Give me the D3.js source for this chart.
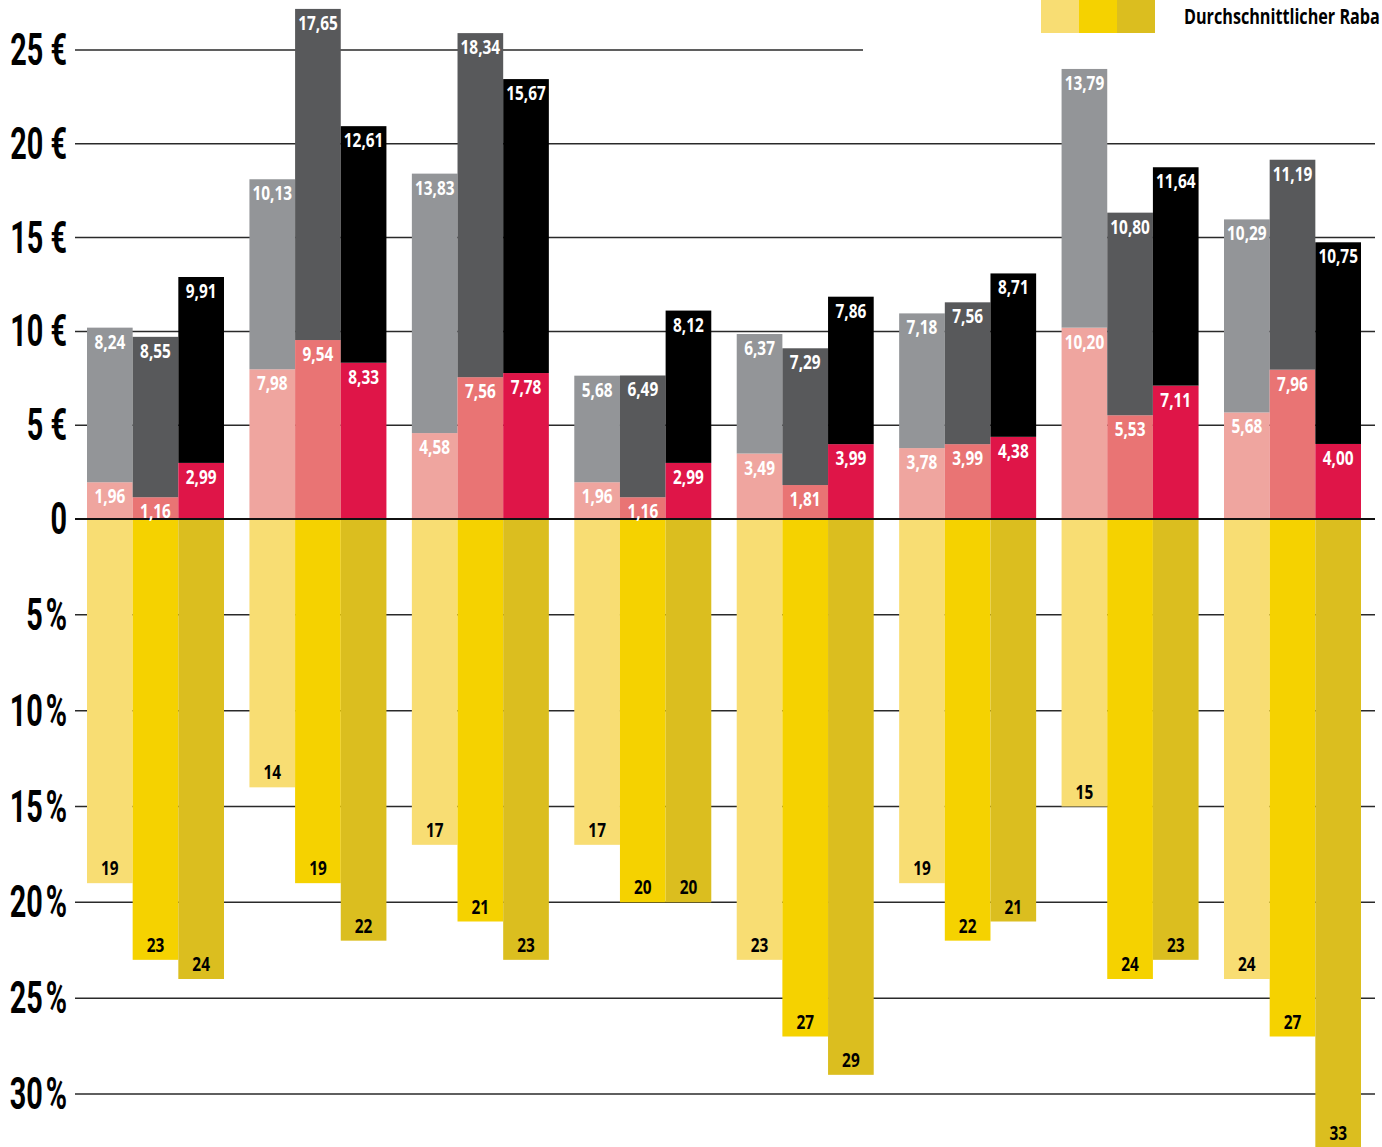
<!DOCTYPE html>
<html>
<head>
<meta charset="utf-8">
<script src="https://cdn.jsdelivr.net/npm/d3@7"></script>
<style>
  html, body { margin: 0; padding: 0; background: #fff; overflow: hidden; }
  svg { display: block; }
</style>
</head>
<body>
<svg id="chart" width="1382" height="1147"></svg>
<script>
// ---------- DATA ----------
const categories = ["1", "2", "3", "4", "5", "6", "7", "8"];
const seriesKeys = ["a", "b", "c"];

// lower (red) segments, euros
const lowerA = [1.96, 7.98, 4.58, 1.96, 3.49, 3.78, 10.20, 5.68];
const lowerB = [1.16, 9.54, 7.56, 1.16, 1.81, 3.99, 5.53, 7.96];
const lowerC = [2.99, 8.33, 7.78, 2.99, 3.99, 4.38, 7.11, 4.00];

// upper (grey) segments, euros
const upperA = [8.24, 10.13, 13.83, 5.68, 6.37, 7.18, 13.79, 10.29];
const upperB = [8.55, 17.65, 18.34, 6.49, 7.29, 7.56, 10.80, 11.19];
const upperC = [9.91, 12.61, 15.67, 8.12, 7.86, 8.71, 11.64, 10.75];

// average discount, percent (downward bars)
const rabattA = [19, 14, 17, 17, 23, 19, 15, 24];
const rabattB = [23, 19, 21, 20, 27, 22, 24, 27];
const rabattC = [24, 22, 23, 20, 29, 21, 23, 33];

const euroTicks = [0, 5, 10, 15, 20, 25];
const euroTickLabels = ["0", "5 €", "10 €", "15 €", "20 €", "25 €"];
const pctTicks = [5, 10, 15, 20, 25, 30];
const pctTickLabels = ["5\u200A%", "10\u200A%", "15\u200A%", "20\u200A%", "25\u200A%", "30\u200A%"];
const legendLabel = "Durchschnittlicher Raba";

// ---------- STYLE ----------
const lowerColors = ["#efa59f", "#e97474", "#df1548"];
const upperColors = ["#939598", "#58595b", "#000000"];
const yellowColors = ["#f8dd73", "#f5d200", "#dbbe1f"];
const labelFont = "'Open Sans', 'Noto Sans', sans-serif";
const axisFont = "Roboto, 'Liberation Sans', sans-serif";

const lower = [lowerA, lowerB, lowerC];
const upper = [upperA, upperB, upperC];
const rabatt = [rabattA, rabattB, rabattC];

const svg = d3.select("#chart");

// ---------- SCALES ----------
const x = d3.scaleBand().domain(categories).range([87, 1361]).paddingInner(0.1566).paddingOuter(0);
const xi = d3.scaleBand().domain(seriesKeys).range([0, x.bandwidth()]).padding(0);
const yE = d3.scaleLinear().domain([0, 25]).range([519, 50]);
const yP = d3.scaleLinear().domain([0, 30]).range([519, 1094]);

// ---------- GRID ----------
const grid = svg.append("g");
euroTicks.filter(t => t > 0).forEach(t => {
  grid.append("line")
    .attr("x1", 75).attr("x2", t === 25 ? 863 : 1375)
    .attr("y1", yE(t)).attr("y2", yE(t))
    .attr("stroke", "#2a2a2a").attr("stroke-width", 1.5);
});
pctTicks.forEach(t => {
  grid.append("line")
    .attr("x1", 75).attr("x2", 1375)
    .attr("y1", yP(t)).attr("y2", yP(t))
    .attr("stroke", "#2a2a2a").attr("stroke-width", 1.5);
});

// ---------- AXIS LABELS ----------
const axisG = svg.append("g");
function axisLabel(y, txt) {
  axisG.append("text")
    .attr("transform", `translate(67,${y + 15}) scale(0.64,1)`)
    .attr("text-anchor", "end")
    .attr("font-family", axisFont)
    .attr("font-weight", 700)
    .attr("font-size", 45)
    .attr("fill", "#000")
    .text(txt);
}
euroTicks.forEach((t, i) => axisLabel(yE(t), euroTickLabels[i]));
pctTicks.forEach((t, i) => axisLabel(yP(t), pctTickLabels[i]));

// ---------- BARS ----------
const bars = svg.append("g");
categories.forEach((c, gi) => {
  seriesKeys.forEach((k, si) => {
    const bx = x(c) + xi(k);
    const bw = xi.bandwidth();
    const lo = lower[si][gi];
    const up = upper[si][gi];
    const pc = rabatt[si][gi];
    bars.append("rect")
      .attr("x", bx).attr("width", bw)
      .attr("y", yP(0)).attr("height", yP(pc) - yP(0))
      .attr("fill", yellowColors[si]);
    bars.append("rect")
      .attr("x", bx).attr("width", bw)
      .attr("y", yE(lo)).attr("height", yE(0) - yE(lo))
      .attr("fill", lowerColors[si]);
    bars.append("rect")
      .attr("x", bx).attr("width", bw)
      .attr("y", yE(lo + up)).attr("height", yE(lo) - yE(lo + up))
      .attr("fill", upperColors[si]);
  });
});

// zero line on top
svg.append("line")
  .attr("x1", 75).attr("x2", 1375)
  .attr("y1", yE(0)).attr("y2", yE(0))
  .attr("stroke", "#111").attr("stroke-width", 1.8);

// ---------- VALUE LABELS ----------
const fmt = v => v.toFixed(2).replace(".", ",");
const labels = svg.append("g");
function valLabel(cx, y, txt, color) {
  labels.append("text")
    .attr("transform", `translate(${cx},${y}) scale(0.77,1)`)
    .attr("text-anchor", "middle")
    .attr("font-family", labelFont)
    .attr("font-weight", 700)
    .attr("font-size", 20)
    .attr("fill", color)
    .text(txt);
}
categories.forEach((c, gi) => {
  seriesKeys.forEach((k, si) => {
    const cx = x(c) + xi(k) + xi.bandwidth() / 2;
    const lo = lower[si][gi];
    const up = upper[si][gi];
    const pc = rabatt[si][gi];
    valLabel(cx, yE(lo + up) + 21, fmt(up), "#fff");
    valLabel(cx, yE(lo) + 21, fmt(lo), "#fff");
    valLabel(cx, Math.min(yP(pc) - 8, 1140), String(pc), "#000");
  });
});

// ---------- LEGEND ----------
const legend = svg.append("g");
yellowColors.forEach((col, i) => {
  legend.append("rect")
    .attr("x", 1041 + i * 38).attr("y", 0)
    .attr("width", 38).attr("height", 33)
    .attr("fill", col);
});
const lt = legend.append("text")
  .attr("font-family", labelFont)
  .attr("font-weight", 700)
  .attr("font-size", 22)
  .attr("fill", "#000")
  .text(legendLabel);
const natural = lt.node().getComputedTextLength();
const sx = 196 / natural;
lt.attr("transform", `translate(1184,24) scale(${sx},1)`);
</script>
</body>
</html>
